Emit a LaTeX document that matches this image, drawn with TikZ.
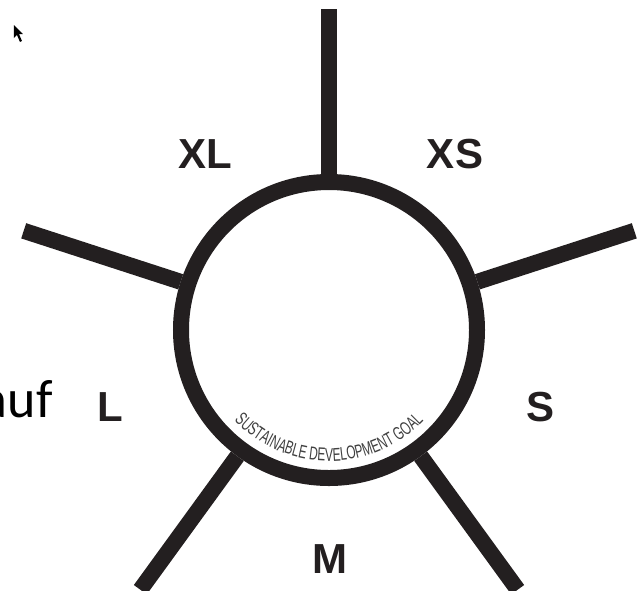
\documentclass[tikz,border=0pt]{standalone}
\usepackage{fontspec}
\setmainfont{Liberation Sans}
\newfontfamily\sdgfont[FakeStretch=0.64]{Liberation Sans}
\newfontfamily\notefont{Carlito}
\usepackage{tikz}
\usetikzlibrary{decorations.text}
\definecolor{ink}{HTML}{231F20}
\tikzset{
  sdgring/.style={draw=ink, circle, line width=8pt, minimum size=148pt, inner sep=0pt},
  sdgspoke/.style={draw=ink, line width=8pt, line cap=butt},
  sizelabel/.style={text=ink, font=\bfseries\fontsize{21}{24}\selectfont, inner sep=0pt},
  notetext/.style={font=\notefont\fontsize{27}{30}\selectfont, inner sep=0pt, anchor=base east}
}
\begin{document}
\begin{tikzpicture}[x=0.5pt,y=0.5pt]
\useasboundingbox (-329,-260) rectangle (311,330);
\node[sdgring] (goal) at (0,0) {};
\foreach \ang/\name in {90/top,18/right,-54/lowright,-126/lowleft,162/left} {
  \coordinate (\name) at (\ang:321);
  \draw[sdgspoke] (goal.\ang) -- (\name);
}
\node[sizelabel] (xl) at (-124,176) {XL};
\node[sizelabel] (xs) at (126,176) {XS};
\node[sizelabel] (l) at (-219,-77) {L};
\node[sizelabel] (s) at (211,-77) {S};
\node[sizelabel] (m) at (1,-229) {M};
\node[notetext] (auf) at (-276,-87) {auf};
% curved caption inside the ring
\path[decorate, decoration={text along path, text align=center,
  text color=black!75,
  text={|\sdgfont\fontsize{9.3}{11}\selectfont|SUSTAINABLE DEVELOPMENT GOAL}}]
  (-150:131) arc (-150:-30:131);
% mouse pointer
\coordinate (pointer) at (-315,305);
\fill[black] (pointer) -- ++(0,-13) -- ++(3,3) -- ++(3,-7) -- ++(2,1) -- ++(-3,7) -- ++(4,0) -- cycle;
\end{tikzpicture}
\end{document}
